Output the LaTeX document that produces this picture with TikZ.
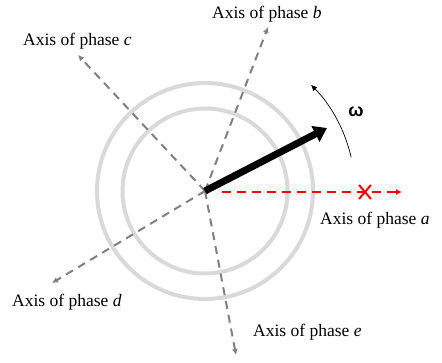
\documentclass[tikz,border=0pt]{standalone}
\usepackage{fontspec}
\setmainfont{Liberation Serif}
\setsansfont{Liberation Sans}
\usetikzlibrary{arrows.meta}

\begin{document}
\begin{tikzpicture}[x=1pt, y=-1pt, >={Latex[length=6pt,width=6pt]},
    axis/.style={->, gray, line width=2pt, dash pattern=on 8pt off 6pt},
    lab/.style={anchor=base west, inner sep=0pt, font=\fontsize{17.5}{20}\selectfont}]
    \useasboundingbox (0,0) rectangle (442,363);

    % Centre and rings
    \coordinate (O) at (205,191);
    \draw[line width=4pt, black!15] (O) circle (108);
    \draw[line width=4pt, black!15] (O) circle (82.5);

    % Axis tips
    \coordinate (B) at (268,27);
    \coordinate (C) at (78,55);
    \coordinate (D) at (52,283);
    \coordinate (E) at (236,355);
    \coordinate (A0) at (222,192);
    \coordinate (A) at (402,192);
    \coordinate (X) at (365,192);

    \draw[axis] (O) -- (B);
    \draw[axis] (O) -- (C);
    \draw[axis] (O) -- (D);
    \draw[axis] (O) -- (E);

    % Axis of phase a
    \draw[->, red, line width=2pt, dash pattern=on 9pt off 6pt] (A0) -- (A);
    \draw[red, line width=2pt] ([shift={(-6,-7)}]X) -- ([shift={(6,7)}]X)
        ([shift={(-6,7)}]X) -- ([shift={(6,-7)}]X);

    % Rotor vector
    \coordinate (R) at (327,128);
    \draw[-{Triangle[length=13pt,width=17pt]}, line width=7pt] (O) -- (R);

    % Rotation
    \draw[->, line width=0.7pt] ([shift={(-13:150)}]O) arc[start angle=-13, end angle=-45, radius=150];
    \node (w) at (356,112) {\fontsize{18}{20}\selectfont\sffamily\bfseries ω};

    \node[lab] (labA) at (320,225) {Axis of phase \textit{a}};
    \node[lab] (labB) at (212,19) {Axis of phase \textit{b}};
    \node[lab] (labC) at (23,46) {Axis of phase \textit{c}};
    \node[lab] (labD) at (12,307) {Axis of phase \textit{d}};
    \node[lab] (labE) at (253,337) {Axis of phase \textit{e}};
\end{tikzpicture}
\end{document}
